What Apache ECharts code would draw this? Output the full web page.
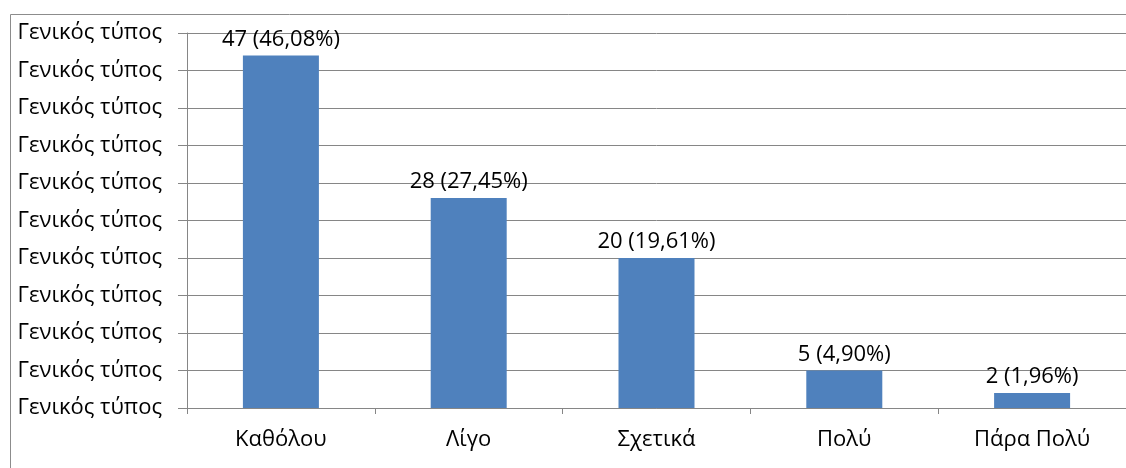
<!DOCTYPE html>
<html>
<head>
<meta charset="utf-8">
<script src="https://cdn.jsdelivr.net/npm/echarts@6/dist/echarts.min.js"></script>
<style>
html,body{margin:0;padding:0;background:#fff;}
#c{width:1126px;height:468px;}
</style>
</head>
<body>
<div id="c"></div>
<script>
const categories = ['Καθόλου', 'Λίγο', 'Σχετικά', 'Πολύ', 'Πάρα Πολύ'];
const counts = [47, 28, 20, 5, 2];
const percents = ['46,08%', '27,45%', '19,61%', '4,90%', '1,96%'];
const yTickLabel = 'Γενικός τύπος';

const FONT = 'Open Sans';
const FS = 22;
const chart = echarts.init(document.getElementById('c'));
chart.setOption({
  animation: false,
  backgroundColor: '#fff',
  graphic: [{
    type: 'rect', left: 8, top: 12, z: -10,
    shape: { width: 1200, height: 500 },
    style: { fill: 'none', stroke: '#8c8c8c', lineWidth: 1 }
  }],
  grid: { left: 187, top: 33, width: 950, height: 375, containLabel: false },
  xAxis: {
    type: 'category',
    data: categories,
    axisLine: { lineStyle: { color: '#868686', width: 1 } },
    axisTick: { show: true, length: 6, lineStyle: { color: '#868686' }, alignWithLabel: false },
    axisLabel: { color: '#000', fontFamily: FONT, fontSize: FS, margin: 21 }
  },
  yAxis: {
    type: 'value',
    min: 0, max: 50, interval: 5,
    axisLine: { show: true, lineStyle: { color: '#868686', width: 1 } },
    axisTick: { show: true, length: 9, lineStyle: { color: '#868686' } },
    splitLine: { lineStyle: { color: '#868686', width: 1 } },
    axisLabel: { color: '#000', fontFamily: FONT, fontSize: FS, margin: 25, formatter: () => yTickLabel }
  },
  series: [{
    type: 'bar',
    data: counts,
    barWidth: 76,
    itemStyle: { color: '#4F81BD' },
    label: {
      show: true, position: 'top', distance: 5,
      color: '#000', fontFamily: FONT, fontSize: FS,
      formatter: p => counts[p.dataIndex] + ' (' + percents[p.dataIndex] + ')'
    }
  }]
});
</script>
</body>
</html>
